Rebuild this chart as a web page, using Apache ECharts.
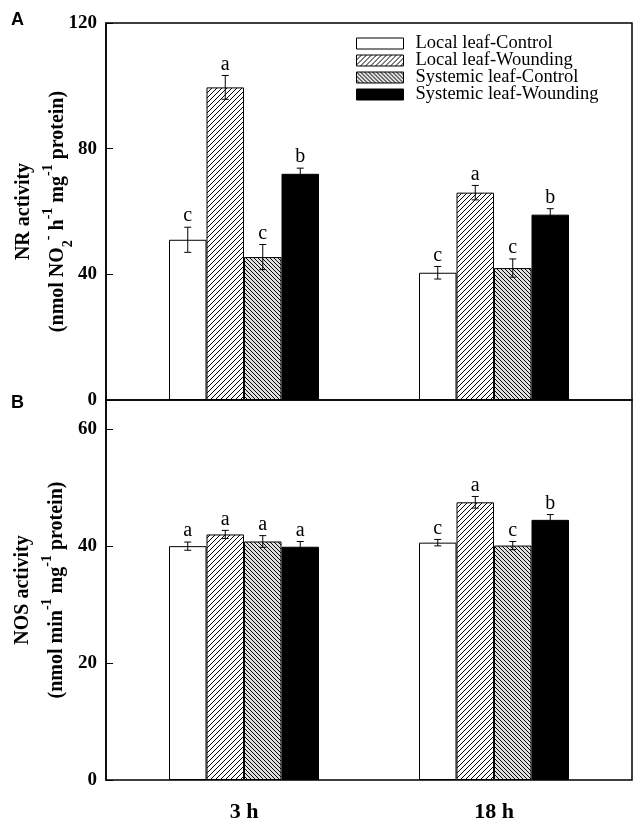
<!DOCTYPE html>
<html><head><meta charset="utf-8">
<script src="https://cdn.jsdelivr.net/npm/echarts@6/dist/echarts.min.js"></script>
<style>html,body{margin:0;padding:0;background:#fff}#c{width:640px;height:827px}</style>
</head><body><div id="c"></div>
<script>
const categories = ['3 h', '18 h'];
const seriesNames = ['Local leaf-Control', 'Local leaf-Wounding', 'Systemic leaf-Control', 'Systemic leaf-Wounding'];

// NR activity (panel A), values for [3 h, 18 h]
const nrLocalControl = [51, 40.5];
const nrLocalWounding = [99.5, 66];
const nrSystemicControl = [45.5, 42];
const nrSystemicWounding = [72, 59];
const nrErrLocalControl = [4, 2];
const nrErrLocalWounding = [3.8, 2.3];
const nrErrSystemicControl = [4, 2.9];
const nrErrSystemicWounding = [1.8, 1.9];
const nrLetLocalControl = ['c', 'c'];
const nrLetLocalWounding = ['a', 'a'];
const nrLetSystemicControl = ['c', 'c'];
const nrLetSystemicWounding = ['b', 'b'];

// NOS activity (panel B)
const nosLocalControl = [40.0, 40.6];
const nosLocalWounding = [42.0, 47.5];
const nosSystemicControl = [40.8, 40.1];
const nosSystemicWounding = [39.9, 44.5];
const nosErrLocalControl = [0.7, 0.55];
const nosErrLocalWounding = [0.7, 1.0];
const nosErrSystemicControl = [1.0, 0.7];
const nosErrSystemicWounding = [0.9, 0.9];
const nosLetLocalControl = ['a', 'c'];
const nosLetLocalWounding = ['a', 'a'];
const nosLetSystemicControl = ['a', 'c'];
const nosLetSystemicWounding = ['a', 'b'];

const nrTicks = { min: 0, max: 120, interval: 40 };
const nosTicks = { min: 0, max: 65, interval: 20 };

function hatch(size, dir, lw, bg) {
  const c = document.createElement('canvas');
  c.width = c.height = size;
  const g = c.getContext('2d');
  g.fillStyle = bg; g.fillRect(0, 0, size, size);
  g.strokeStyle = '#000'; g.lineWidth = lw;
  g.beginPath();
  if (dir > 0) {
    g.moveTo(-1, size + 1); g.lineTo(size + 1, -1);
    g.moveTo(-1, 1); g.lineTo(1, -1);
    g.moveTo(size - 1, size + 1); g.lineTo(size + 1, size - 1);
  } else {
    g.moveTo(-1, -1); g.lineTo(size + 1, size + 1);
    g.moveTo(size - 1, -1); g.lineTo(size + 1, 1);
    g.moveTo(-1, size - 1); g.lineTo(1, size + 1);
  }
  g.stroke();
  return c;
}
const fills = [
  '#ffffff',
  { image: hatch(5, 1, 1, '#ffffff'), repeat: 'repeat' },
  { image: hatch(4, -1, 1, '#e0e0e0'), repeat: 'repeat' },
  '#000000'
];

const SERIF = '"Liberation Serif", "Times New Roman", serif';

const nrMeans = [nrLocalControl, nrLocalWounding, nrSystemicControl, nrSystemicWounding];
const nrErrs = [nrErrLocalControl, nrErrLocalWounding, nrErrSystemicControl, nrErrSystemicWounding];
const nrLets = [nrLetLocalControl, nrLetLocalWounding, nrLetSystemicControl, nrLetSystemicWounding];
const nosMeans = [nosLocalControl, nosLocalWounding, nosSystemicControl, nosSystemicWounding];
const nosErrs = [nosErrLocalControl, nosErrLocalWounding, nosErrSystemicControl, nosErrSystemicWounding];
const nosLets = [nosLetLocalControl, nosLetLocalWounding, nosLetSystemicControl, nosLetSystemicWounding];

function barSeries(means, axisIdx) {
  return means.map((m, i) => ({
    name: seriesNames[i], type: 'bar', xAxisIndex: axisIdx, yAxisIndex: axisIdx,
    data: m, barCategoryGap: '40%', barGap: 0,
    itemStyle: { color: fills[i], borderColor: '#000', borderWidth: 1 },
    emphasis: { disabled: true }
  }));
}
function errSeries(means, errs, lets, axisIdx) {
  const data = [];
  const letters = [];
  for (let s = 0; s < means.length; s++) {
    for (let c = 0; c < categories.length; c++) {
      data.push([c, s, means[s][c], errs[s][c]]);
      letters.push(lets[s][c]);
    }
  }
  return {
    type: 'custom', xAxisIndex: axisIdx, yAxisIndex: axisIdx, z: 5,
    encode: { x: 0, y: 2 }, data: data, silent: true,
    renderItem: function (params, api) {
      const ci = api.value(0), si = api.value(1), m = api.value(2), e = api.value(3);
      const band = api.size([1, 0])[0];
      const bw = band * 0.6 / 4;
      const base = api.coord([ci, 0]);
      const cx = base[0] + (si - 1.5) * bw;
      const yT = api.coord([ci, m + e])[1];
      const yB = api.coord([ci, m - e])[1];
      const cap = 3.5;
      const st = { stroke: '#000', lineWidth: 1 };
      return {
        type: 'group', children: [
          { type: 'line', shape: { x1: cx, y1: yT, x2: cx, y2: yB }, style: st },
          { type: 'line', shape: { x1: cx - cap, y1: yT, x2: cx + cap, y2: yT }, style: st },
          { type: 'line', shape: { x1: cx - cap, y1: yB, x2: cx + cap, y2: yB }, style: st },
          { type: 'text', style: { text: letters[params.dataIndex], x: cx, y: yT - 1, align: 'center', verticalAlign: 'bottom', font: '20px ' + SERIF, fill: '#000' } }
        ]
      };
    }
  };
}

const nameRich = {
  t: { fontFamily: SERIF, fontWeight: 'bold', fontSize: 20, lineHeight: 34, verticalAlign: 'middle', color: '#000' },
  sup: { fontFamily: SERIF, fontWeight: 'bold', fontSize: 14, lineHeight: 14, verticalAlign: 'top', color: '#000' },
  sub: { fontFamily: SERIF, fontWeight: 'bold', fontSize: 14, lineHeight: 14, verticalAlign: 'bottom', color: '#000' }
};
const labelStyle = { fontFamily: SERIF, fontWeight: 'bold', fontSize: 19, color: '#000', margin: 9 };

const chart = echarts.init(document.getElementById('c'), null, { renderer: 'canvas' });
chart.setOption({
  animation: false,
  backgroundColor: '#fff',
  title: [
    { text: 'A', left: 11, top: 11, padding: 0, textStyle: { fontFamily: '"Liberation Sans", Arial, sans-serif', fontWeight: 'bold', fontSize: 18, color: '#000' } },
    { text: 'B', left: 11, top: 394, padding: 0, textStyle: { fontFamily: '"Liberation Sans", Arial, sans-serif', fontWeight: 'bold', fontSize: 18, color: '#000' } }
  ],
  legend: {
    data: seriesNames, orient: 'vertical', left: 356, top: 34, padding: 0,
    icon: 'rect', itemWidth: 47, itemHeight: 11, itemGap: -2,
    itemStyle: { borderColor: '#000', borderWidth: 1 },
    textStyle: { fontFamily: SERIF, fontSize: 18.5, color: '#000', lineHeight: 17, padding: [0, 0, 0, 7] },
    selectedMode: false
  },
  grid: [
    { left: 106, top: 23, width: 526, height: 377, show: true, borderColor: '#000', borderWidth: 1.5, backgroundColor: 'transparent', outerBoundsMode: 'none' },
    { left: 119, top: 23, width: 500, height: 377, outerBoundsMode: 'none' },
    { left: 106, top: 400, width: 526, height: 380, show: true, borderColor: '#000', borderWidth: 1.5, backgroundColor: 'transparent', outerBoundsMode: 'none' },
    { left: 119, top: 400, width: 500, height: 380, outerBoundsMode: 'none' }
  ],
  xAxis: [
    { gridIndex: 0, type: 'value', show: false },
    { gridIndex: 1, type: 'category', data: categories, axisLine: { show: false }, axisTick: { show: false }, axisLabel: { show: false }, splitLine: { show: false } },
    { gridIndex: 2, type: 'value', show: false },
    { gridIndex: 3, type: 'category', data: categories, axisLine: { show: false }, axisTick: { show: false },
      axisLabel: { fontFamily: SERIF, fontWeight: 'bold', fontSize: 22, color: '#000', margin: 21 }, splitLine: { show: false } }
  ],
  yAxis: [
    { gridIndex: 0, type: 'value', show: false },
    { gridIndex: 1, type: 'value', min: nrTicks.min, max: nrTicks.max, interval: nrTicks.interval, offset: 13,
      axisLine: { show: true, lineStyle: { color: '#000', width: 1.5 } },
      axisTick: { show: true, inside: true, length: 7, lineStyle: { color: '#000' } },
      axisLabel: labelStyle, splitLine: { show: false },
      name: '{t|NR activity}\n{t|(nmol NO}{sub|2}{sup|-}{t| h}{sup|-1}{t| mg}{sup|-1}{t| protein)}',
      nameLocation: 'middle', nameGap: 31, nameMoveOverlap: false, nameTextStyle: { rich: nameRich } },
    { gridIndex: 2, type: 'value', show: false },
    { gridIndex: 3, type: 'value', min: nosTicks.min, max: nosTicks.max, interval: nosTicks.interval, offset: 13,
      axisLine: { show: true, lineStyle: { color: '#000', width: 1.5 } },
      axisTick: { show: true, inside: true, length: 7, lineStyle: { color: '#000' } },
      axisLabel: Object.assign({ showMaxLabel: false }, labelStyle), splitLine: { show: false },
      name: '{t|NOS activity}\n{t|(nmol min}{sup|-1}{t| mg}{sup|-1}{t| protein)}',
      nameLocation: 'middle', nameGap: 32, nameMoveOverlap: false, nameTextStyle: { rich: nameRich } }
  ],
  series: [].concat(
    barSeries(nrMeans, 1),
    [errSeries(nrMeans, nrErrs, nrLets, 1)],
    barSeries(nosMeans, 3),
    [errSeries(nosMeans, nosErrs, nosLets, 3)]
  )
});
</script>
</body></html>
